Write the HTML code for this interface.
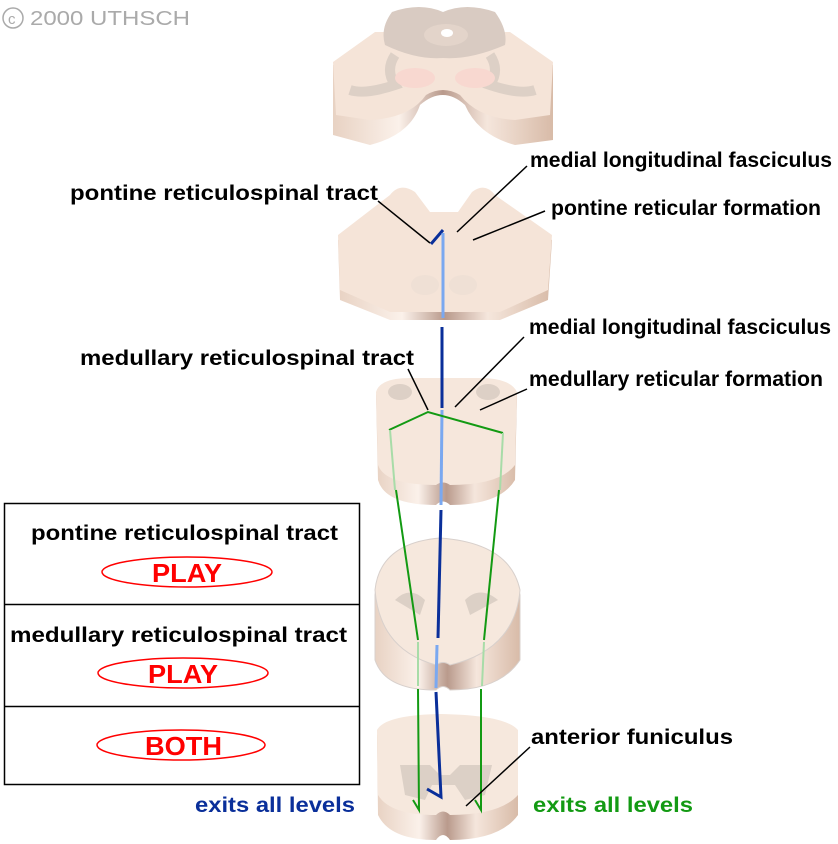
<!DOCTYPE html>
<html><head><meta charset="utf-8"><style>
body{margin:0;background:#fff;}
svg{display:block;font-family:"Liberation Sans",Arial,sans-serif;}
.lb{font-weight:bold;font-size:21px;fill:#000;}
</style></head><body>
<svg width="838" height="844" viewBox="0 0 838 844">
<defs>
<linearGradient id="edge" x1="0" x2="1" y1="0" y2="0">
<stop offset="0" stop-color="#e8d2c3"/><stop offset="0.3" stop-color="#fbf1ea"/><stop offset="0.5" stop-color="#b99a8c"/><stop offset="0.7" stop-color="#f5e6dc"/><stop offset="1" stop-color="#d8bba8"/></linearGradient>
</defs>
<g>
<circle cx="13" cy="18" r="10" fill="none" stroke="#aaa" stroke-width="1.5"/>
<text x="8" y="24" font-size="15" fill="#aaa">c</text>
<text x="30" y="25" font-size="20" fill="#aaa" textLength="160" lengthAdjust="spacingAndGlyphs">2000 UTHSCH</text></g>

<g>
<path d="M333 65 L375 35 L510 35 L553 65 L553 140 L515 145 Q478 135 465 105 Q443 85 420 105 Q410 135 370 145 L333 135 Z" fill="url(#edge)"/>
<path d="M333 62 L375 32 L510 32 L553 62 L550 115 L515 120 Q478 118 460 95 Q443 85 426 95 Q410 118 370 120 L336 115 Z" fill="#f5e4d8"/>
<path d="M392 12 Q420 2 443 12 Q466 2 495 12 Q508 30 505 45 Q470 60 443 58 Q416 60 385 45 Q380 28 392 12 Z" fill="#d9cbc2"/>
<path d="M395 55 Q385 70 395 85 Q365 95 350 90" fill="none" stroke="#ddd0c6" stroke-width="10"/>
<path d="M490 55 Q500 70 490 85 Q520 95 535 90" fill="none" stroke="#ddd0c6" stroke-width="10"/>
<ellipse cx="446" cy="35" rx="22" ry="11" fill="#e3d4ca"/>
<ellipse cx="447" cy="33" rx="6" ry="4" fill="#fff"/>
<ellipse cx="415" cy="78" rx="20" ry="10" fill="#f8d8d0"/>
<ellipse cx="475" cy="78" rx="20" ry="10" fill="#f8d8d0"/>
</g>

<g>
<path d="M338 240 L390 200 Q400 185 415 195 L430 215 L458 215 L472 195 Q485 185 495 200 L552 240 L548 300 L500 320 L390 320 L340 300 Z" fill="url(#edge)"/>
<path d="M338 235 L390 195 Q400 182 415 192 L430 212 L458 212 L472 192 Q485 182 495 195 L552 235 L548 290 L500 312 L390 312 L340 290 Z" fill="#f5e4d8"/>
<ellipse cx="425" cy="285" rx="14" ry="10" fill="#efe0d5"/><ellipse cx="463" cy="285" rx="14" ry="10" fill="#efe0d5"/>
</g>

<g>
<path d="M376 395 Q380 380 410 380 L480 380 Q510 380 517 395 L515 480 Q500 505 450 505 Q443 498 436 505 Q385 505 378 480 Z" fill="url(#edge)"/>
<path d="M376 392 Q380 378 410 378 L480 378 Q510 378 517 392 L515 465 Q500 485 450 485 Q443 480 436 485 Q385 485 378 465 Z" fill="#f6e7dc"/>
<ellipse cx="400" cy="392" rx="12" ry="8" fill="#ddd0c6"/><ellipse cx="488" cy="392" rx="12" ry="8" fill="#ddd0c6"/>
</g>

<g>
<path d="M375 595 Q380 545 440 540 Q510 545 520 595 L520 660 Q500 690 450 690 Q443 683 436 690 Q385 690 375 660 Z" fill="url(#edge)" stroke="#d8d0cc"/>
<path d="M375 590 Q380 543 440 538 Q510 543 520 590 Q515 650 450 665 Q443 660 436 665 Q380 650 375 590 Z" fill="#f6e8dd" stroke="#d8d0cc"/>
<path d="M395 600 Q410 585 425 600 L420 615 Z" fill="#dcd0c6"/><path d="M465 600 Q480 585 498 600 L470 615 Z" fill="#dcd0c6"/>
</g>

<g>
<path d="M377 735 Q385 717 440 716 Q505 717 518 735 L518 815 Q500 840 450 840 Q443 830 436 840 Q390 840 378 815 Z" fill="url(#edge)"/>
<path d="M377 730 Q385 715 440 714 Q505 715 518 730 L518 795 Q500 815 450 815 Q443 808 436 815 Q390 815 378 795 Z" fill="#f6e8dd"/>
<path d="M400 765 L430 765 L440 775 L450 775 L460 765 L492 765 L485 795 L465 800 L455 785 L432 785 L425 800 L405 795 Z" fill="#dcd0c6"/>
</g>

<g fill="none" stroke-width="3">
<polyline points="431,244 443,230" stroke="#0a2f9a"/>
<line x1="443" y1="233" x2="443" y2="318" stroke="#7aa8f0"/>
<line x1="442" y1="327" x2="442" y2="408" stroke="#0a2f9a"/>
<line x1="442" y1="410" x2="441" y2="505" stroke="#7aa8f0"/>
<line x1="441" y1="510" x2="438" y2="638" stroke="#0a2f9a"/>
<line x1="437" y1="645" x2="436" y2="688" stroke="#7aa8f0"/>
<polyline points="436,692 441,797 427,789" stroke="#0a2f9a"/>
</g>
<g fill="none" stroke-width="2">
<polyline points="389,430 428,412 503,433" stroke="#139a13"/>
<line x1="390" y1="430" x2="395" y2="490" stroke="#a8dca8"/>
<line x1="396" y1="490" x2="418" y2="640" stroke="#139a13"/>
<line x1="418" y1="642" x2="418" y2="686" stroke="#a8dca8"/>
<polyline points="418,689 419,810 413,800" stroke="#139a13"/>
<line x1="503" y1="433" x2="500" y2="490" stroke="#a8dca8"/>
<line x1="499" y1="490" x2="484" y2="640" stroke="#139a13"/>
<line x1="484" y1="642" x2="482" y2="686" stroke="#a8dca8"/>
<polyline points="481,689 481,810 475,800" stroke="#139a13"/>
</g>

<g stroke="#000" stroke-width="1.5">
<line x1="378" y1="201" x2="430" y2="243"/>
<line x1="527" y1="166" x2="457" y2="232"/>
<line x1="545" y1="211" x2="473" y2="240"/>
<line x1="408" y1="369" x2="428" y2="410"/>
<line x1="524" y1="337" x2="455" y2="407"/>
<line x1="527" y1="389" x2="480" y2="410"/>
<line x1="530" y1="747" x2="466" y2="806"/>
</g>
<text class="lb" x="70" y="200" textLength="308" lengthAdjust="spacingAndGlyphs">pontine reticulospinal tract</text>
<text class="lb" x="530" y="167" textLength="302" lengthAdjust="spacingAndGlyphs">medial longitudinal fasciculus</text>
<text class="lb" x="551" y="215" textLength="270" lengthAdjust="spacingAndGlyphs">pontine reticular formation</text>
<text class="lb" x="529" y="334" textLength="302" lengthAdjust="spacingAndGlyphs">medial longitudinal fasciculus</text>
<text class="lb" x="80" y="365" textLength="334" lengthAdjust="spacingAndGlyphs">medullary reticulospinal tract</text>
<text class="lb" x="529" y="386" textLength="294" lengthAdjust="spacingAndGlyphs">medullary reticular formation</text>
<text class="lb" x="531" y="744" textLength="202" lengthAdjust="spacingAndGlyphs">anterior funiculus</text>
<text class="lb" x="195" y="812" textLength="160" lengthAdjust="spacingAndGlyphs" style="fill:#0a2f9a">exits all levels</text>
<text class="lb" x="533" y="812" textLength="160" lengthAdjust="spacingAndGlyphs" style="fill:#139a13">exits all levels</text>

<g>
<rect x="4.5" y="503.5" width="355" height="281" fill="#fff" stroke="#000" stroke-width="1.5"/>
<line x1="4" y1="604.5" x2="360" y2="604.5" stroke="#000" stroke-width="1.5"/>
<line x1="4" y1="706.5" x2="360" y2="706.5" stroke="#000" stroke-width="1.5"/>
<text class="lb" x="31" y="540" textLength="307" lengthAdjust="spacingAndGlyphs">pontine reticulospinal tract</text>
<text class="lb" x="10" y="642" textLength="337" lengthAdjust="spacingAndGlyphs">medullary reticulospinal tract</text>
<g>
<ellipse cx="187" cy="572" rx="85" ry="15" fill="#fff" stroke="#f00" stroke-width="1.5"/>
<text x="152" y="582" font-size="26" font-weight="bold" fill="#f00" textLength="70" lengthAdjust="spacingAndGlyphs">PLAY</text></g>
<g>
<ellipse cx="183" cy="673" rx="85" ry="15" fill="#fff" stroke="#f00" stroke-width="1.5"/>
<text x="148" y="683" font-size="26" font-weight="bold" fill="#f00" textLength="70" lengthAdjust="spacingAndGlyphs">PLAY</text></g>
<g>
<ellipse cx="181" cy="745" rx="84" ry="15" fill="#fff" stroke="#f00" stroke-width="1.5"/>
<text x="145" y="755" font-size="26" font-weight="bold" fill="#f00" textLength="77" lengthAdjust="spacingAndGlyphs">BOTH</text></g>
</g>
</svg>
</body></html>
